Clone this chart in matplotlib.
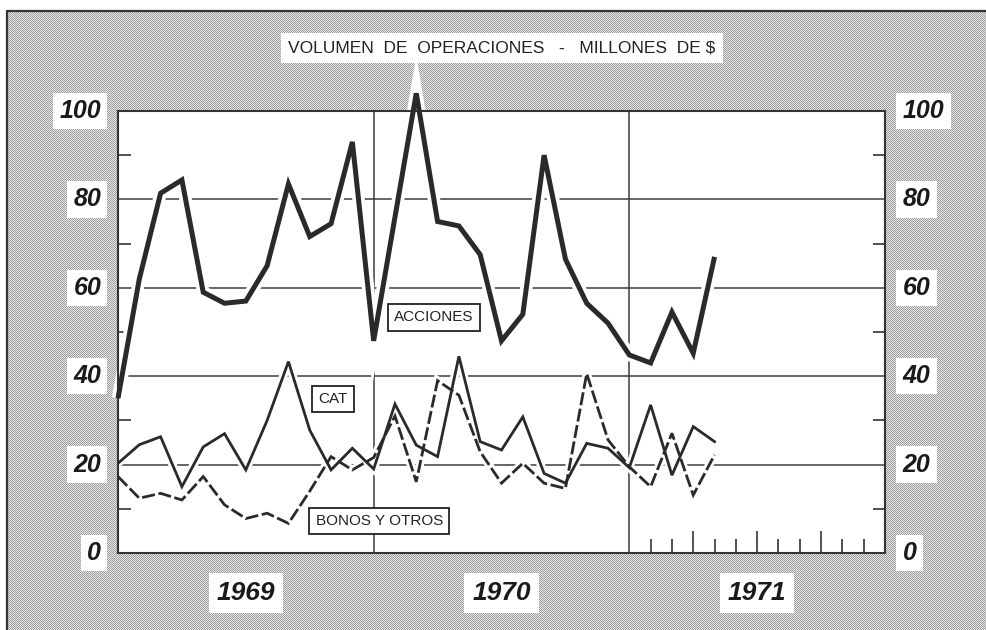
import numpy as np
import matplotlib
matplotlib.use('Agg')
import matplotlib.pyplot as plt
from matplotlib.lines import Line2D
from matplotlib.transforms import blended_transform_factory

# data: one value per month, Jan 1969 .. May 1971
months = list(range(29))
acciones = [35, 62, 81.4, 84.4, 59, 56.5, 57, 65, 83.5, 71.6, 74.5, 93, 48,
            76, 104, 75, 74, 67.5, 48, 54, 90, 66.5, 56.5, 52, 44.8, 43, 54.5, 45.2, 67]
cat = [20.3, 24.5, 26.3, 15, 24, 27, 18.8, 30, 43.3, 27.8, 18.8, 23.7, 19,
       33.7, 24.4, 21.8, 44.5, 25.2, 23.3, 30.8, 18, 15.8, 24.8, 23.7, 19.3, 33.5, 17.6, 28.6, 25.2]
bonos = [17.3, 12.4, 13.5, 12, 17.3, 10.9, 7.8, 9, 6.7, 14, 21.8, 18.8, 21.6,
         31, 16.1, 39, 35.7, 22.9, 15.8, 20.3, 15.8, 14.6, 40.6, 25.6, 19.5, 15, 27.1, 13.1, 22.2]

years = ['1969', '1970', '1971']
ytick_vals = [0, 20, 40, 60, 80, 100]
title = 'VOLUMEN  DE  OPERACIONES   -   MILLONES  DE $'

font = 'Liberation Sans'

W, H = 986, 630
fig = plt.figure(figsize=(W / 100, H / 100), dpi=100)
fig.patch.set_facecolor('white')

# halftone background, placed pixel for pixel
bx0, by1 = 7, 11
hh, ww = H - by1, W - bx0
ii, jj = np.indices((hh, ww))
tex = np.where((ii + jj) % 2 == 0, 0.62, 0.90)
fig.figimage(tex, xo=bx0, yo=0, cmap='gray', vmin=0, vmax=1, origin='upper', zorder=0)
fig.add_artist(Line2D([bx0 / W, bx0 / W, 1], [0, 1 - by1 / H, 1 - by1 / H],
                      transform=fig.transFigure, color='#333333', lw=1.6, zorder=1))

# main plot area
ax = fig.add_axes([118 / W, 1 - 553 / H, 767 / W, 442 / H])
ax.set_zorder(5)
ax.set_facecolor('white')
ax.set_xlim(0, 36)
ax.set_ylim(0, 100)
for s in ax.spines.values():
    s.set_linewidth(1.5)
    s.set_color('#333333')

grid_c = '#3c3c3c'
for v in [20, 40, 60, 80]:
    ax.axhline(v, color=grid_c, lw=1.1, zorder=1.5)
for v in [12, 24]:
    ax.axvline(v, color=grid_c, lw=1.1, zorder=1.5)

ax.set_yticks([10, 30, 50, 70, 90])
ax.tick_params(axis='y', direction='in', length=9, width=1.2, color='#333333',
               left=True, right=True, labelleft=False, labelright=False)
ax.set_xticks([27, 30, 33])
ax.set_xticks([25, 26, 28, 29, 31, 32, 34, 35], minor=True)
ax.tick_params(axis='x', which='major', direction='in', length=16, width=1.2, color='#333333')
ax.tick_params(axis='x', which='minor', direction='in', length=10, width=1.2, color='#333333')
ax.tick_params(axis='x', which='both', labelbottom=False, top=False)

line_c = '#2a2a2a'
# white halos first, then the lines on top
ax.plot(months, acciones, color='white', lw=9, zorder=2.5, clip_on=False,
        solid_joinstyle='miter', solid_capstyle='butt')
ax.plot(months, cat, color='white', lw=6, zorder=2.5, solid_joinstyle='miter')
ax.plot(months, bonos, color='white', lw=6, zorder=2.5, solid_joinstyle='miter')

ax.plot(months, bonos, color=line_c, lw=2.0, zorder=3, dashes=(4.7, 1.3),
        dash_joinstyle='miter')
ax.plot(months, cat, color=line_c, lw=2.0, zorder=3.1, solid_joinstyle='miter')
ax.plot(months, acciones, color=line_c, lw=3.6, zorder=3.2, clip_on=False,
        solid_joinstyle='miter', solid_capstyle='butt')

box = dict(boxstyle='square,pad=0.4', facecolor='white', edgecolor='#222222', lw=1.3)
lab = dict(fontsize=11, family=font, color='#222222', ha='center', va='center', zorder=5)
ax.text(14.82, 53.3, 'ACCIONES', bbox=box, **lab)
ax.text(10.08, 34.9, 'CAT', bbox=box, **lab)
ax.text(12.26, 7.3, 'BONOS Y OTROS', bbox=box, **lab)

# axis labels on white patches
wbox = dict(boxstyle='square,pad=0.25', facecolor='white', edgecolor='none')
tr = blended_transform_factory(ax.transAxes, ax.transData)
num = dict(fontsize=18, family=font, weight='bold', style='italic', color='#1a1a1a',
           va='center', bbox=wbox, clip_on=False)
for v in ytick_vals:
    ax.text(-0.022, v, str(v), transform=tr, ha='right', **num)
    ax.text(1.023, v, str(v), transform=tr, ha='left', **num)

for k, y in enumerate(years):
    ax.text((6 + 12 * k) / 36, -0.09, y, transform=ax.transAxes, ha='center', va='center',
            fontsize=19, family=font, weight='bold', style='italic', color='#1a1a1a',
            bbox=dict(boxstyle='square,pad=0.3', facecolor='white', edgecolor='none'))

fig.text(502 / W, 1 - 48 / H, title, ha='center', va='center', fontsize=12.5,
         family=font, color='#222222', zorder=6,
         bbox=dict(boxstyle='square,pad=0.45', facecolor='white', edgecolor='none'))

fig.savefig('out.png', dpi=100)
